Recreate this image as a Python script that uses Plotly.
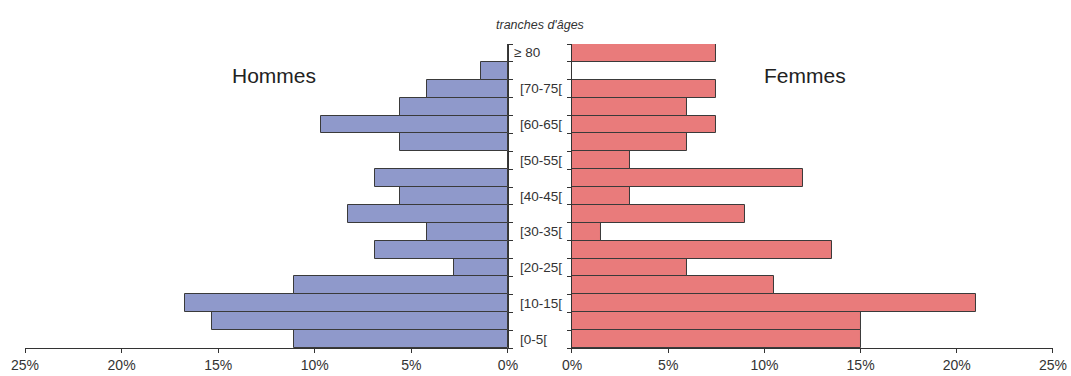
import plotly.graph_objects as go

age_groups = ["[0-5[", "[5-10[", "[10-15[", "[15-20[", "[20-25[", "[25-30[", "[30-35[",
              "[35-40[", "[40-45[", "[45-50[", "[50-55[", "[55-60[", "[60-65[", "[65-70[",
              "[70-75[", "[75-80[", "\u2265 80"]
hommes = [11.1, 15.3, 16.7, 11.1, 2.8, 6.9, 4.2, 8.3, 5.6, 6.9, 0.0, 5.6, 9.7, 5.6, 4.2, 1.4, 0.0]
femmes = [15.0, 15.0, 21.0, 10.5, 6.0, 13.5, 1.5, 9.0, 3.0, 12.0, 3.0, 6.0, 7.5, 6.0, 7.5, 0.0, 7.5]
x_ticks = [0, 5, 10, 15, 20, 25]
x_tick_text = ["0%", "5%", "10%", "15%", "20%", "25%"]

ypos = list(range(len(age_groups)))
boundaries = [i - 0.5 for i in range(len(age_groups) + 1)]

fig = go.Figure()
fig.add_trace(go.Bar(x=hommes, y=ypos, orientation="h", xaxis="x", yaxis="y",
                     marker=dict(color="#8f99cb", line=dict(color="#3a3a3a", width=1)),
                     name="Hommes", showlegend=False))
fig.add_trace(go.Bar(x=femmes, y=ypos, orientation="h", xaxis="x2", yaxis="y2",
                     marker=dict(color="#e97b7b", line=dict(color="#3a3a3a", width=1)),
                     name="Femmes", showlegend=False))

axis_common = dict(showgrid=False, zeroline=False, showline=True, linecolor="#333333",
                   linewidth=1, ticks="outside", ticklen=4, tickcolor="#333333")
yr = [-0.5, len(age_groups) - 0.5]

# initial size fits inside the page's default 8px body margin; final size set after load
fig.update_layout(
    width=1055, height=360,
    margin=dict(l=17, r=10, t=36, b=20),
    plot_bgcolor="white", paper_bgcolor="white",
    bargap=0,
    font=dict(family="Liberation Sans, Arial, sans-serif", color="#333333"),
    xaxis=dict(domain=[0, 0.4698], range=[25, 0], tickvals=x_ticks, ticktext=x_tick_text,
               tickfont=dict(size=14, color="#333333"), anchor="y", automargin=False,
               **axis_common),
    yaxis=dict(domain=[0, 1], range=yr, side="right", tickvals=boundaries,
               ticktext=[""] * len(boundaries), anchor="x", **axis_common),
    xaxis2=dict(domain=[0.5321, 1], range=[0, 25], tickvals=x_ticks, ticktext=x_tick_text,
                tickfont=dict(size=14, color="#333333"), anchor="y2", automargin=False,
                **axis_common),
    yaxis2=dict(domain=[0, 1], range=yr, side="left", tickvals=boundaries,
                ticktext=[""] * len(boundaries), anchor="x2", **axis_common),
)

annotations = []
for i, lab in enumerate(age_groups):
    if i % 2 == 0:
        annotations.append(dict(x=0.4795 if i != 16 else 0.4742, xref="paper", y=i, yref="y",
                                text=lab, showarrow=False, xanchor="left", yanchor="middle",
                                font=dict(size=13.5, color="#333333")))
annotations.append(dict(x=0.5011, xref="paper", y=1.0, yref="paper", xanchor="center",
                        yanchor="bottom", yshift=10,
                        text="<i>tranches d'âges</i>", showarrow=False,
                        font=dict(size=12.5, color="#333333")))
annotations.append(dict(x=0.242, xref="paper", y=0.898, yref="paper", xanchor="center",
                        yanchor="middle", text="Hommes", showarrow=False,
                        font=dict(size=21, color="#222222")))
annotations.append(dict(x=0.759, xref="paper", y=0.898, yref="paper", xanchor="center",
                        yanchor="middle", text="Femmes", showarrow=False,
                        font=dict(size=21, color="#222222")))
fig.update_layout(annotations=annotations)

post = ("document.body.style.margin='0';"
        "var gd=document.getElementById('{plot_id}');"
        "gd.style.width='1071px';gd.style.height='376px';"
        "Plotly.relayout(gd,{width:1071,height:376,'margin.l':25,'margin.r':18,"
        "'margin.t':44,'margin.b':28});")
fig.write_html("out.html", config={"displayModeBar": False}, post_script=post)
